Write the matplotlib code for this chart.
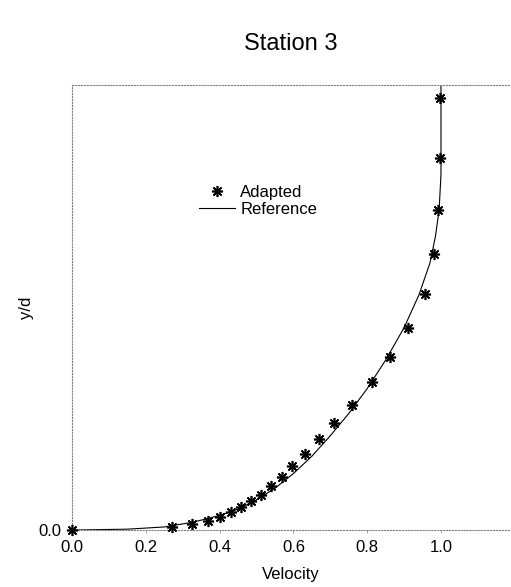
import matplotlib
matplotlib.use("Agg")
import matplotlib.pyplot as plt
from matplotlib.ticker import FormatStrFormatter

plt.rcParams.update({"font.family": ["Liberation Sans", "DejaVu Sans"]})

# Adapted profile (measured points)
adapted_v = [0.0, 0.271, 0.325, 0.369, 0.401, 0.431, 0.459, 0.485, 0.512, 0.540,
             0.570, 0.597, 0.631, 0.670, 0.709, 0.759, 0.813, 0.862, 0.911,
             0.957, 0.981, 0.992, 0.997, 0.997]
adapted_y = [0.0, 0.008, 0.013, 0.021, 0.030, 0.041, 0.051, 0.065, 0.079, 0.098,
             0.119, 0.143, 0.171, 0.204, 0.240, 0.282, 0.333, 0.389, 0.454,
             0.530, 0.620, 0.719, 0.836, 0.971]

# Reference profile (solid curve)
ref_v = [0.0, 0.15, 0.25, 0.33, 0.40, 0.45, 0.50, 0.55, 0.60, 0.65, 0.70,
         0.75, 0.80, 0.85, 0.90, 0.94, 0.97, 0.985, 0.995, 1.0, 1.0]
ref_y = [0.0, 0.002, 0.007, 0.018, 0.033, 0.047, 0.068, 0.094, 0.127, 0.166,
         0.212, 0.262, 0.318, 0.382, 0.455, 0.528, 0.600, 0.660, 0.720, 0.800, 1.0]

fig = plt.figure(figsize=(5.11, 5.87), dpi=100)
ax = fig.add_axes([0.141, 0.097, 0.857, 0.758])

ax.plot(ref_v, ref_y, color="black", lw=0.8, label="Reference")
ax.plot(adapted_v, adapted_y, ls="none", marker=(8, 2, 0), ms=8, mew=1.2,
        color="black", label="Adapted", clip_on=False, zorder=3)

ax.set_xlim(0, 1.187)
ax.set_ylim(0, 1.0)
ax.set_xticks([0.0, 0.2, 0.4, 0.6, 0.8, 1.0])
ax.set_yticks([0.0])
ax.xaxis.set_major_formatter(FormatStrFormatter("%.1f"))
ax.yaxis.set_major_formatter(FormatStrFormatter("%.1f"))
ax.tick_params(labelsize=12, length=2, width=0.5, color="gray", pad=2)
ax.tick_params(axis="x", pad=5)
ax.tick_params(axis="y", pad=6)

for side in ["left", "top", "bottom"]:
    ax.spines[side].set_linestyle(":")
    ax.spines[side].set_color("gray")
    ax.spines[side].set_linewidth(0.8)
ax.spines["right"].set_visible(False)

ax.set_xlabel("Velocity", fontsize=12, labelpad=9)
ax.set_ylabel("y/d", fontsize=12, labelpad=3)
ax.set_title("Station 3", fontsize=17, pad=25)

h, l = ax.get_legend_handles_labels()
ax.legend(h[::-1], l[::-1], loc="center left", bbox_to_anchor=(0.255, 0.74),
          frameon=False, fontsize=12, handlelength=2.2, handletextpad=0.3,
          labelspacing=0.1, numpoints=1)

plt.savefig("out.png", dpi=100)
plt.close()
